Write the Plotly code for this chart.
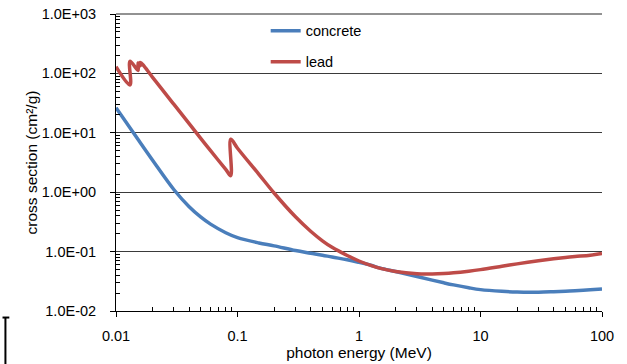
import plotly.graph_objects as go

# photon energy (MeV)
concrete_energy = [0.01, 0.015, 0.02, 0.03, 0.04, 0.05, 0.06, 0.08, 0.1, 0.15, 0.2, 0.3, 0.4,
                   0.5, 0.6, 0.8, 1, 1.25, 1.5, 2, 3, 4, 5, 6, 8, 10, 15, 20, 30, 40, 50, 60, 80, 100]
# cross section (cm2/g)
concrete_xs = [26.5, 8.0, 3.45, 1.10, 0.57, 0.38, 0.29, 0.208, 0.172, 0.14, 0.125, 0.104, 0.094,
               0.087, 0.081, 0.073, 0.066, 0.059, 0.0527, 0.0462, 0.0382, 0.0331, 0.0298, 0.0275,
               0.0246, 0.0229, 0.0214, 0.0208, 0.0207, 0.0211, 0.0215, 0.0219, 0.0227, 0.0234]

lead_energy = [0.01, 0.01304, 0.01304, 0.0152, 0.0152, 0.01586, 0.01586, 0.02, 0.03, 0.04, 0.05,
               0.06, 0.08, 0.088, 0.088, 0.1, 0.15, 0.2, 0.3, 0.4, 0.5, 0.6, 0.8, 1, 1.25, 1.5, 2,
               3, 4, 5, 6, 8, 10, 15, 20, 30, 40, 50, 60, 80, 100]
lead_xs = [130.0, 64.0, 160.0, 112.0, 150.0, 135.0, 153.0, 86.0, 30.0, 14.3, 8.0,
           5.0, 2.42, 1.90, 7.8, 5.5, 2.0, 0.97, 0.385, 0.22, 0.152, 0.118, 0.086, 0.0695, 0.0585,
           0.0522, 0.0461, 0.0423, 0.042, 0.0427, 0.0439, 0.0468, 0.0497, 0.0566, 0.0621, 0.0701,
           0.0757, 0.0798, 0.0828, 0.0871, 0.0931]

x_tickvals = [0.01, 0.1, 1, 10, 100]
x_ticktext = ["0.01", "0.1", "1", "10", "100"]
y_tickvals = [0.01, 0.1, 1, 10, 100, 1000]
y_ticktext = ["1.0E-02", "1.0E-01", "1.0E+00", "1.0E+01", "1.0E+02", "1.0E+03"]
mantissas = [2, 3, 4, 5, 6, 7, 8, 9]
x_minor = [m * d for d in [0.01, 0.1, 1, 10] for m in mantissas]
y_minor = [m * d for d in [0.01, 0.1, 1, 10, 100] for m in mantissas]

FONT = "Liberation Sans"
FS = 14.5
TFS = 15.5

fig = go.Figure()
fig.add_trace(go.Scatter(x=concrete_energy, y=concrete_xs, name="concrete", mode="lines",
                         line=dict(color="#4A7EBB", width=3.5, shape="spline", smoothing=1),
                         legendgroup="a"))
fig.add_trace(go.Scatter(x=lead_energy, y=lead_xs, name="lead", mode="lines",
                         line=dict(color="#BE4B48", width=3.5, shape="spline", smoothing=1),
                         legendgroup="b"))

fig.update_layout(
    width=627, height=364,
    margin=dict(l=116, r=25, t=14, b=53, autoexpand=False),
    paper_bgcolor="white", plot_bgcolor="white",
    font=dict(family=FONT, size=FS, color="black"),
    showlegend=True,
    legend=dict(x=0.308, y=0.997, xanchor="left", yanchor="top",
                font=dict(family=FONT, size=FS, color="black"),
                bgcolor="rgba(0,0,0,0)", tracegroupgap=9, traceorder="grouped",
                itemwidth=30),
    xaxis=dict(type="log", range=[-2, 2], tickmode="array", tickvals=x_tickvals, ticktext=x_ticktext,
               automargin=False,
               showgrid=False, zeroline=False, showline=True, linecolor="black", linewidth=1,
               ticks="outside", ticklen=5, tickcolor="black", ticklabelstandoff=7,
               minor=dict(ticks="inside", ticklen=4, tickcolor="black", tickmode="array",
                          tickvals=x_minor, showgrid=False),
               title=dict(text="photon energy (MeV)", standoff=2,
                          font=dict(family=FONT, size=TFS))),
    yaxis=dict(type="log", range=[-2, 3], tickmode="array", tickvals=y_tickvals, ticktext=y_ticktext,
               automargin=False,
               showgrid=True, gridcolor="#3a3a3a", gridwidth=1, zeroline=False,
               showline=True, linecolor="black", linewidth=1,
               ticks="outside", ticklen=5, tickcolor="black", ticklabelstandoff=11,
               minor=dict(ticks="inside", ticklen=4, tickcolor="black", tickmode="array",
                          tickvals=y_minor, showgrid=False),
               title=dict(text="cross section (cm²/g)", standoff=0,
                          font=dict(family=FONT, size=TFS))),
    shapes=[
        dict(type="line", xref="paper", yref="paper", x0=0, x1=1, y0=1, y1=1,
             line=dict(color="#6e6e6e", width=1.5)),
        dict(type="line", xref="paper", yref="paper", x0=-0.2275, x1=-0.2275, y0=-0.022, y1=-0.19,
             line=dict(color="black", width=2)),
        dict(type="line", xref="paper", yref="paper", x0=-0.2335, x1=-0.2195, y0=-0.022, y1=-0.022,
             line=dict(color="black", width=2)),
    ],
)

fig.write_html("out.html")
